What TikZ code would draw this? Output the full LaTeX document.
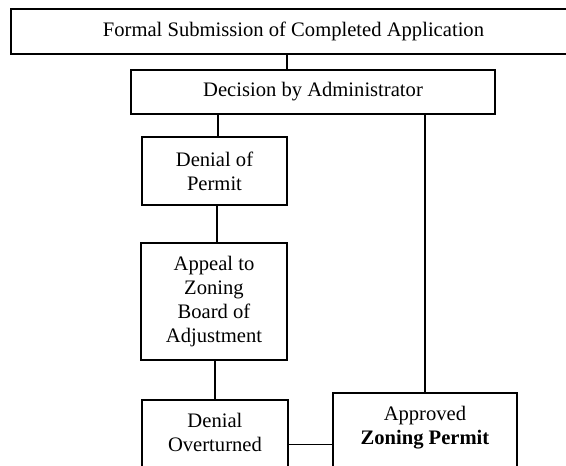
\documentclass[tikz,border=0pt]{standalone}
\usepackage{fontspec}
\setmainfont{Liberation Serif}
\begin{document}
\begin{tikzpicture}[x=1pt,y=-1pt,
  box/.style={draw,line width=1.9pt,inner sep=0pt,align=center,
    font=\fontsize{20.6}{24}\selectfont},
  conn/.style={line width=1.8pt}]
\useasboundingbox (0,0) rectangle (566,466);
\node[box,minimum width=565pt,minimum height=45pt] (top) at (293.5,31.5)
  {Formal Submission of Completed Application};
\node[box,minimum width=364pt,minimum height=44pt] (dec) at (313,92)
  {Decision by Administrator};
\node[box,minimum width=145pt,minimum height=68pt] (den) at (214.5,171)
  {Denial of\\Permit};
\node[box,minimum width=146pt,minimum height=117pt] (app) at (214,301.5)
  {Appeal to\\Zoning\\Board of\\Adjustment};
\node[box,anchor=north west] (ovr) at (141,399)
  {\parbox[c][100pt][t]{146pt}{\centering\rule{0pt}{28pt}Denial\\Overturned}};
\node[box,anchor=north west] (appr) at (332,392)
  {\parbox[c][100pt][t]{184pt}{\centering\rule{0pt}{28pt}Approved\\\textbf{Zoning Permit}}};
\coordinate (hy) at (300,444.5);
\draw[conn] ([xshift=-26pt]dec.north) -- ([xshift=-26pt]dec.north |- top.south);
\draw[conn] ([xshift=3.5pt]den.north) -- ([xshift=3.5pt]den.north |- dec.south);
\draw[conn] ([xshift=2.5pt]den.south) -- ([xshift=2.5pt]den.south |- app.north);
\draw[conn] ([xshift=1pt]app.south) -- ([xshift=1pt]app.south |- ovr.north);
\draw[conn] (appr.north) -- (appr.north |- dec.south);
\draw[conn] (ovr.east |- hy) -- (appr.west |- hy);
\end{tikzpicture}
\end{document}
